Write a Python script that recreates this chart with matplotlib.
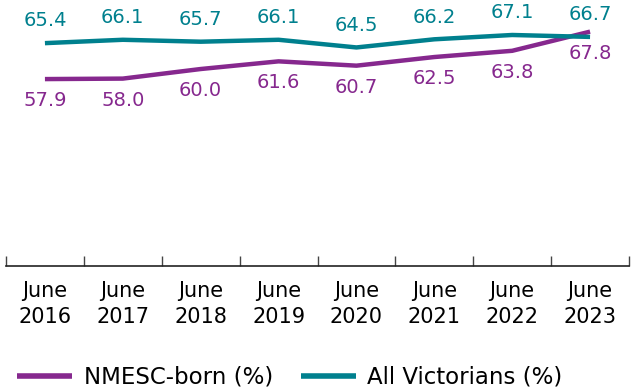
import matplotlib
matplotlib.use("Agg")
import matplotlib.pyplot as plt
import numpy as np

# Série anual (junho de cada ano)
periods = ["June\n2016", "June\n2017", "June\n2018", "June\n2019",
           "June\n2020", "June\n2021", "June\n2022", "June\n2023"]
all_vic = [65.4, 66.1, 65.7, 66.1, 64.5, 66.2, 67.1, 66.7]
nmesc = [57.9, 58.0, 60.0, 61.6, 60.7, 62.5, 63.8, 67.8]

teal = "#00808E"
purple = "#86288E"

fig = plt.figure(figsize=(6.4, 3.88), dpi=100)
ax = fig.add_axes([6 / 640, 122 / 388, 623 / 640, 266 / 388])

x = np.arange(len(periods))
ax.plot(x, nmesc, color=purple, lw=3.2, solid_capstyle="butt", label="NMESC-born (%)")
ax.plot(x, all_vic, color=teal, lw=3.2, solid_capstyle="butt", label="All Victorians (%)")

for xi, v in zip(x, all_vic):
    ax.annotate(f"{v:.1f}", (xi, v), xytext=(0, 16), textcoords="offset points",
                ha="center", va="center", color=teal, fontsize=14)
for xi, v in zip(x, nmesc):
    ax.annotate(f"{v:.1f}", (xi, v), xytext=(0, -15.5), textcoords="offset points",
                ha="center", va="center", color=purple, fontsize=14)

ax.set_xlim(-0.5, len(periods) - 0.5)
ax.set_ylim(18.9, 74.4)

for s in ["top", "left", "right"]:
    ax.spines[s].set_visible(False)
ax.spines["bottom"].set_color("#222222")
ax.spines["bottom"].set_linewidth(1.2)
ax.set_yticks([])

# marcas nas divisões entre categorias, rótulos no centro
ax.set_xticks(np.arange(-0.5, len(periods), 1.0))
ax.set_xticklabels([])
ax.tick_params(axis="x", which="major", direction="in", length=7.5, width=1, color="#444444")
ax.set_xticks(x, minor=True)
ax.set_xticklabels(periods, minor=True, fontsize=15, color="black", linespacing=1.35)
ax.tick_params(axis="x", which="minor", length=0, pad=11)

fig.legend(loc="lower left", bbox_to_anchor=(-0.005, -0.055), ncol=2, frameon=False,
           fontsize=16.5, handlelength=2.4, columnspacing=1.2, handletextpad=0.5)
for h in fig.legends[0].get_lines():
    h.set_linewidth(4)

fig.savefig("out.png", dpi=100)
